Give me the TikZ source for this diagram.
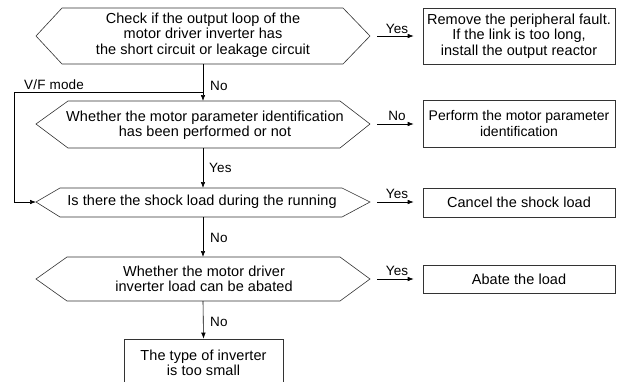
\documentclass[tikz,border=0pt]{standalone}
\usepackage{fontspec}
\setmainfont{Liberation Sans}
\newfontfamily\mainsp[LetterSpace=0.5]{Liberation Sans}
\newfontfamily\lblsp[LetterSpace=1.5]{Liberation Sans}
\usetikzlibrary{arrows.meta}
\begin{document}
\begin{tikzpicture}[x=1pt,y=-1pt,
  every node/.style={font=\mainsp\fontsize{14.5}{15.5}\selectfont, inner sep=0pt, align=center},
  hexline/.style={draw=black!80, line width=0.6pt},
  box/.style={draw=black!80, line width=0.6pt},
  arr/.style={draw=black, line width=0.6pt, -{Latex[length=6pt,width=4.5pt]}},
  lbl/.style={font=\lblsp\fontsize{13.5}{14}\selectfont},
  line/.style={draw=black, line width=0.6pt}]
\useasboundingbox (0,0) rectangle (622,381);
\clip (0,0) rectangle (622,381);
% hexagon 1
\coordinate (h1l) at (36,36); \coordinate (h1r) at (370,36);
\coordinate (h1b) at (203,64);
\draw[hexline] (h1l) -- (62,8) -- (343,8) -- (h1r) -- (343,64) -- (62,64) -- cycle;
\node (t1) at (203,35) {Check if the output loop of the\\motor driver inverter has\\the short circuit or leakage circuit};
% hexagon 2
\coordinate (h2l) at (36,124); \coordinate (h2r) at (370,124);
\coordinate (h2t) at (203,101); \coordinate (h2b) at (203,148);
\draw[hexline] (h2l) -- (68,101) -- (340,101) -- (h2r) -- (340,148) -- (68,148) -- cycle;
\node (t2) at (205,125) {Whether the motor parameter identification\\has been performed or not};
% hexagon 3
\coordinate (h3l) at (36,202); \coordinate (h3r) at (370,202);
\coordinate (h3t) at (203,188); \coordinate (h3b) at (203,217);
\draw[hexline] (h3l) -- (60,188) -- (342,188) -- (h3r) -- (342,217) -- (60,217) -- cycle;
\node (t3) at (202,202) {Is there the shock load during the running};
% hexagon 4
\coordinate (h4l) at (36,279); \coordinate (h4r) at (370,279);
\coordinate (h4t) at (203,257); \coordinate (h4b) at (203,301);
\draw[hexline] (h4l) -- (67,257) -- (340,257) -- (h4r) -- (340,301) -- (67,301) -- cycle;
\node (t4) at (204,279) {Whether the motor driver\\inverter load can be abated};
% boxes
\node[box, minimum width=192pt, minimum height=56pt] (b1) at (519,36) {Remove the peripheral fault.\\If the link is too long,\\install the output reactor};
\node[box, minimum width=192pt, minimum height=47pt, font=\fontsize{14}{15.5}\selectfont] (b2) at (519,123.5) {Perform the motor parameter\\identification};
\node[box, minimum width=192pt, minimum height=29pt] (b3) at (519,202.5) {Cancel the shock load};
\node[box, minimum width=192pt, minimum height=28pt] (b4) at (519,279) {Abate the load};
\node[box, minimum width=159pt, minimum height=48pt] (b5) at (203.5,363) {The type of inverter\\is too small};
% horizontal arrows
\draw[arr, shorten <=7pt, shorten >=9pt] (h1r) -- (b1.west |- h1r);
\draw[arr, shorten <=7pt, shorten >=9pt] (h2r) -- (b2.west |- h2r);
\draw[arr, shorten <=7pt, shorten >=9pt] (h3r) -- (b3.west |- h3r);
\draw[arr, shorten <=7pt, shorten >=9pt] (h4r) -- (b4.west |- h4r);
\node[lbl, anchor=south] at (397,34) {Yes};
\node[lbl, anchor=south] at (397,121) {No};
\node[lbl, anchor=south] at (397,199) {Yes};
\node[lbl, anchor=south] at (397,276) {Yes};
% vertical arrows
\draw[arr] (h1b) -- (h2t);
\draw[arr] (h2b) -- (h3t);
\draw[arr] (h3b) -- (h4t);
\draw[arr] (h4b) -- (b5.north);
\node[lbl, anchor=west] at (210,86) {No};
\node[lbl, anchor=west] at (209,168) {Yes};
\node[lbl, anchor=west] at (210,238) {No};
\node[lbl, anchor=west] at (210,322) {No};
% V/F mode branch
\coordinate (vf1) at (203,92); \coordinate (vf2) at (14,92); \coordinate (vf3) at (14,202);
\draw[line] (vf1) -- (vf2) -- (vf3);
\draw[arr] (vf3) -- (h3l);
\node[lbl, anchor=south west] at (24,90) {V/F mode};
\end{tikzpicture}
\end{document}
